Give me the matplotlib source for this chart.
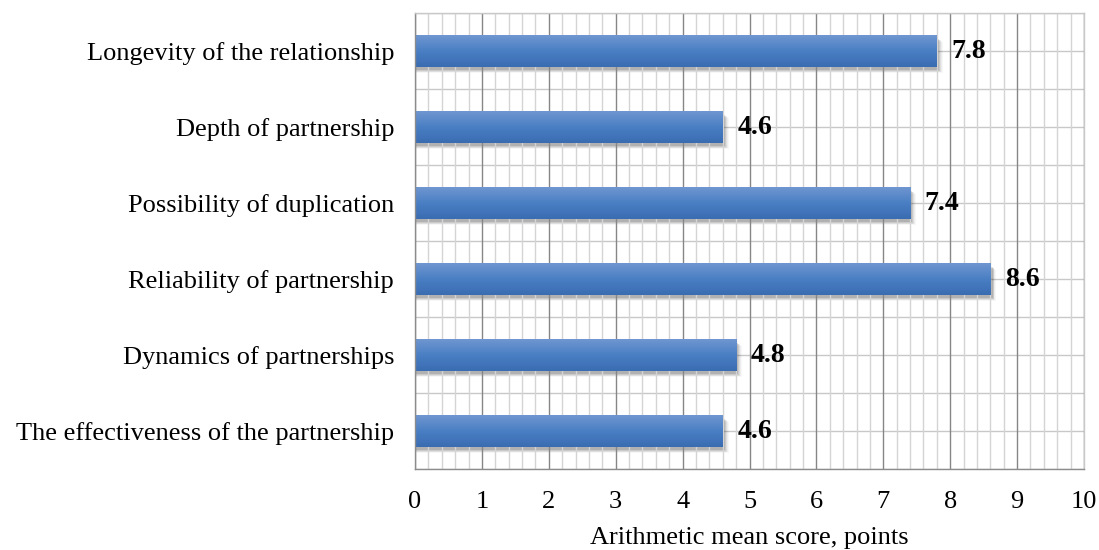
import numpy as np
import matplotlib.pyplot as plt
from matplotlib.ticker import MultipleLocator
from matplotlib.colors import LinearSegmentedColormap

categories = [
    "Longevity of the relationship",
    "Depth of partnership",
    "Possibility of duplication",
    "Reliability of partnership",
    "Dynamics of partnerships",
    "The effectiveness of the partnership",
]
scores = [7.8, 4.6, 7.4, 8.6, 4.8, 4.6]
x_ticks = list(range(0, 11))
x_label = "Arithmetic mean score, points"

plt.rcParams["font.family"] = ["Liberation Serif", "DejaVu Serif"]

fig = plt.figure(figsize=(10.99, 5.5), dpi=100)
ax = fig.add_axes([415 / 1099, 1 - 469 / 550, 669 / 1099, 456 / 550])

n = len(categories)
ypos = np.arange(n)
bar_h = 0.41

# vertical grid: minor every 0.2, major every 1
ax.xaxis.set_minor_locator(MultipleLocator(0.2))
ax.set_xticks(x_ticks)
ax.grid(which="minor", axis="x", color="#d4d4d4", lw=1.0, zorder=0)
ax.grid(which="major", axis="x", color="#868686", lw=1.0, zorder=0)
# horizontal grid at half-category steps
for yy in np.arange(-0.5, n, 0.5):
    ax.axhline(yy, color="#c8c8c8", lw=1.0, zorder=0.5)

# gradient for bars (light top -> darker bottom)
grad = np.linspace(0, 1, 64).reshape(-1, 1)
cmap = LinearSegmentedColormap.from_list("bar", ["#6f96d0", "#4a7fc4", "#3a6cb2"])

for y, v in zip(ypos, scores):
    # soft drop shadow
    for k, a in enumerate([0.12, 0.09, 0.06, 0.04, 0.03]):
        off = 0.014 * (k + 1)
        ax.barh(y + 0.04 + off * 0.6, v + 0.02 + off, height=bar_h, left=0,
                color="black", alpha=a, lw=0, zorder=1)
    ax.imshow(grad, cmap=cmap, aspect="auto", zorder=2,
              extent=[0, v, y + bar_h / 2, y - bar_h / 2], interpolation="bilinear")
    ax.text(v + 0.22, y, f"{v:.1f}", va="center", ha="left",
            fontsize=20, fontweight="bold", zorder=3)

ax.set_xlim(0, 10)
ax.set_ylim(n - 0.5, -0.5)
ax.set_yticks(ypos)
ax.set_yticklabels(categories, fontsize=19)
ax.set_xticklabels([str(t) for t in x_ticks], fontsize=19)
ax.tick_params(axis="both", which="both", length=0)
ax.tick_params(axis="y", pad=15)
ax.tick_params(axis="x", pad=16)
ax.set_xlabel(x_label, fontsize=19, labelpad=10)

for side in ["top", "right"]:
    ax.spines[side].set_color("#c8c8c8")
ax.spines["left"].set_color("#8c8c8c")
ax.spines["bottom"].set_color("#8c8c8c")
for s in ax.spines.values():
    s.set_linewidth(1.0)

fig.savefig("out.png", dpi=100)
